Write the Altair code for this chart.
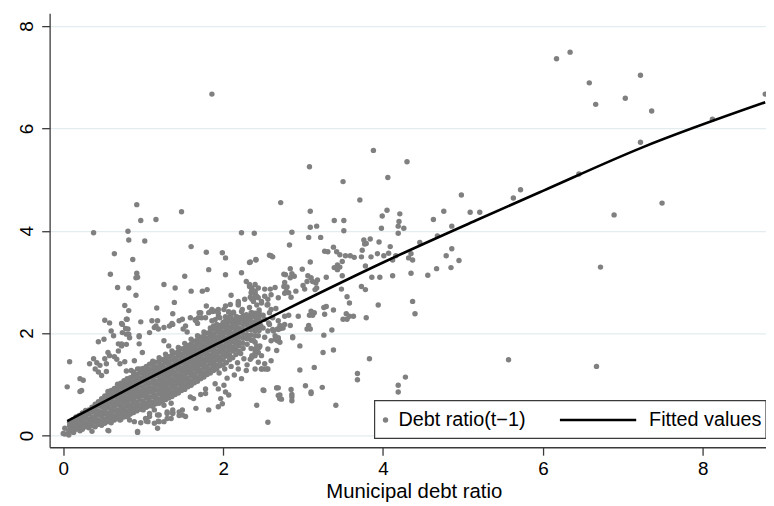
import altair as alt
import pandas as pd

# ---------------- data ----------------
X_TICKS = [0, 2, 4, 6, 8]
Y_TICKS = [0, 2, 4, 6, 8]
X_TITLE = "Municipal debt ratio"
LEGEND_LABELS = ["Debt ratio(t\u22121)", "Fitted values"]

# fitted curve, sampled along the drawn line
FIT_X = [0.05, 1.0, 2.0, 2.81, 4.0, 5.16, 6.0, 7.23, 8.78]
FIT_Y = [0.28, 1.06, 1.85, 2.48, 3.38, 4.20, 4.78, 5.62, 6.51]

# isolated points (x, y)
OUTLIERS = [
    (6.17, 7.36), (6.34, 7.49), (6.58, 6.89), (6.66, 6.47), (7.03, 6.59), (7.22, 7.04),
    (7.36, 6.34), (8.78, 6.67), (8.12, 6.18), (7.22, 5.73), (6.45, 5.11), (5.72, 4.80),
    (5.63, 4.64), (5.21, 4.36), (6.89, 4.31), (7.49, 4.54), (6.72, 3.29), (5.57, 1.48),
    (6.67, 1.35), (1.86, 6.67),
]

MID_POINTS = [
    (3.88, 5.57), (3.08, 5.25), (4.30, 5.35), (3.50, 4.96), (4.06, 5.04), (2.72, 4.55), (3.71, 4.60),
    (4.98, 4.70), (3.09, 4.38), (4.05, 4.40), (3.99, 4.29), (4.21, 4.33), (4.76, 4.38), (5.09, 4.36),
    (3.39, 4.20), (3.51, 4.20), (4.63, 4.22), (4.20, 4.18), (3.09, 4.07), (3.17, 4.09), (4.19, 4.09),
    (4.26, 4.05), (3.98, 4.05), (4.86, 4.09), (2.39, 3.95), (2.86, 3.97), (3.51, 4.00), (4.19, 3.95),
    (3.07, 3.87), (3.22, 3.87), (2.83, 3.72), (3.76, 3.82), (3.79, 3.75), (3.84, 3.84), (3.95, 3.78),
    (4.46, 3.77), (4.68, 3.90), (3.38, 3.68), (3.27, 3.60), (3.74, 3.62), (3.77, 3.74), (4.09, 3.69),
    (4.86, 3.65), (4.79, 3.51), (4.95, 3.42), (2.60, 3.51), (2.41, 3.43), (2.33, 3.38), (3.09, 3.39),
    (3.42, 3.59), (3.46, 3.53), (3.53, 3.51), (3.59, 3.51), (3.64, 3.48), (3.31, 3.59), (3.73, 3.49),
    (3.85, 3.49), (3.93, 3.55), (4.01, 3.51), (4.07, 3.56), (4.12, 3.43), (4.16, 3.51), (4.32, 3.47),
    (4.35, 3.55), (4.37, 3.43), (3.43, 3.33), (3.46, 3.29), (3.49, 3.40), (2.99, 3.25), (2.84, 3.26),
    (2.86, 3.16), (2.89, 3.11), (2.84, 3.08), (2.78, 3.14), (2.76, 3.15), (3.06, 3.12), (3.10, 3.08),
    (3.18, 3.04), (3.16, 2.98), (3.29, 3.09), (3.39, 3.28), (3.43, 3.24), (3.49, 3.12), (3.78, 3.31),
    (3.86, 3.09), (3.96, 3.09), (4.12, 3.12), (4.35, 3.17), (4.56, 3.13), (4.67, 3.26), (4.85, 3.28),
    (2.77, 2.99), (2.80, 2.90), (2.82, 2.79), (2.85, 2.70), (2.91, 2.82), (3.00, 2.93), (3.02, 2.86),
    (3.05, 3.01), (3.12, 3.01), (3.15, 2.85), (3.17, 2.88), (3.48, 2.86), (3.73, 2.91), (3.78, 2.85),
    (3.55, 2.71), (3.58, 2.59), (3.94, 2.55), (4.37, 2.62), (4.40, 2.38), (3.10, 2.43), (3.14, 2.40),
    (3.08, 2.35), (3.12, 2.35), (3.26, 2.50), (3.29, 2.52), (3.27, 2.37), (3.38, 2.45), (3.54, 2.38),
    (3.58, 2.33), (3.63, 2.33), (3.50, 2.27), (3.55, 2.27), (3.79, 2.30), (2.94, 2.33), (2.82, 2.35),
    (2.84, 2.15), (2.71, 2.15), (2.68, 2.08), (2.72, 2.09), (2.63, 2.04), (3.07, 2.15), (3.05, 2.08),
    (3.26, 1.96), (3.36, 2.06), (2.87, 1.91), (2.96, 1.75), (2.68, 1.85), (3.25, 1.62), (3.38, 1.67),
    (3.83, 1.50), (3.14, 1.33), (2.96, 1.28), (2.48, 1.30), (2.55, 1.30), (3.68, 1.21), (3.68, 1.09),
    (4.28, 1.14), (4.19, 0.98), (4.19, 0.85), (2.50, 0.89), (2.67, 0.93), (2.85, 0.90), (3.03, 0.97),
    (3.24, 0.94), (2.71, 0.79), (2.86, 0.80), (3.10, 0.82), (2.69, 1.88), (2.87, 1.93), (3.09, 2.08),
    (2.69, 0.93), (2.71, 0.72), (2.73, 0.71), (2.86, 0.68), (2.86, 0.75), (3.41, 0.59), (3.10, 0.85),
]

UPPER_LEFT = [
    (0.92, 4.51), (0.97, 4.20), (1.16, 4.22), (1.48, 4.37), (0.38, 3.96), (0.81, 3.99), (0.82, 3.82),
    (1.02, 3.80), (2.23, 3.96), (0.64, 3.55), (1.60, 3.69), (1.79, 3.58), (1.99, 3.57), (2.03, 3.47),
    (2.34, 3.39), (2.41, 3.44), (2.58, 3.52), (2.62, 3.49), (0.87, 3.44), (0.59, 3.15), (0.92, 3.17),
    (0.93, 3.09), (0.91, 3.08), (1.52, 3.11), (1.82, 3.24), (2.03, 3.14), (2.23, 3.18), (0.68, 2.89),
    (0.82, 2.88), (0.91, 2.74), (1.26, 2.95), (1.40, 2.88), (1.60, 2.82), (1.74, 2.82), (1.80, 2.85),
    (2.10, 2.74), (2.29, 3.01), (2.33, 2.91), (2.40, 2.95), (2.44, 2.88), (2.36, 2.82), (2.40, 2.74),
    (2.52, 2.86), (2.59, 2.86), (2.65, 2.89), (2.76, 2.91), (2.79, 2.82),
    (0.77, 2.54), (0.82, 2.44), (0.52, 2.25), (0.79, 2.27), (0.74, 2.17), (0.78, 2.09), (0.60, 2.04),
    (0.63, 1.95), (0.97, 2.22), (0.82, 1.98), (0.95, 1.93), (1.11, 2.24), (1.16, 2.14), (1.19, 2.08),
    (1.17, 2.49), (1.39, 2.60), (1.37, 2.38), (1.36, 2.19), (1.49, 2.27), (1.69, 2.30), (1.72, 2.40),
    (1.79, 2.53), (1.68, 2.19), (1.50, 2.08), (1.55, 2.02), (1.84, 2.42), (1.90, 2.43), (1.94, 2.32),
    (2.01, 2.46), (2.03, 2.32), (2.07, 2.41), (2.13, 2.41), (2.17, 2.32), (2.19, 2.58), (2.24, 2.46),
    (2.27, 2.32), (1.86, 2.24), (1.88, 2.14),
    (0.08, 1.44), (0.05, 0.95), (0.21, 1.11), (0.25, 1.08), (0.23, 0.88), (0.21, 0.86), (0.44, 1.83),
    (0.51, 1.88), (0.58, 2.20), (0.73, 2.19), (0.80, 2.27), (0.81, 2.08), (0.79, 1.98), (0.74, 2.01),
    (0.33, 1.40), (0.38, 1.50), (0.40, 1.30), (0.46, 1.37), (0.54, 1.40), (0.58, 1.56), (0.67, 1.49),
    (0.69, 1.65), (0.73, 1.75), (0.79, 1.78), (0.83, 1.91), (0.95, 1.79), (0.95, 1.95), (1.08, 2.01),
    (1.14, 2.11), (1.18, 2.24), (1.26, 2.11), (1.33, 2.14), (1.37, 2.17), (1.45, 2.24), (1.53, 2.14),
    (1.59, 2.30), (1.66, 2.24), (1.70, 2.40), (1.78, 2.30), (1.82, 2.40), (1.86, 2.46), (1.94, 2.46),
    (2.03, 2.53), (2.09, 2.56), (2.19, 2.62), (2.27, 2.66), (2.36, 2.66), (2.44, 2.69), (2.48, 2.59),
    (2.56, 2.66), (2.60, 2.75), (2.69, 2.69), (2.77, 2.78),
    (0.42, 1.42), (0.44, 1.24), (0.48, 1.17), (0.54, 1.25), (0.52, 1.50), (0.56, 1.62), (0.64, 1.54),
    (0.71, 1.40), (0.77, 1.44), (0.79, 1.26), (0.69, 1.79), (0.73, 1.79), (0.89, 1.46), (0.93, 1.30),
    (0.85, 1.27), (0.99, 1.62), (1.26, 1.85), (1.32, 1.75),
]

RIGHT_OF_CORE = [
    (2.36, 2.88), (2.40, 2.82), (2.35, 2.79), (2.42, 2.72), (2.39, 2.68), (1.73, 2.30), (1.65, 2.26),
    (1.87, 2.42), (1.94, 2.39), (2.07, 2.42), (2.13, 2.39), (2.19, 2.55), (2.23, 2.42), (2.29, 2.36),
    (1.90, 2.26), (1.96, 2.30), (2.03, 2.24), (2.09, 2.33), (2.15, 2.24), (2.21, 2.30), (2.27, 2.24),
    (2.34, 2.30), (2.40, 2.33), (2.46, 2.24), (2.52, 2.27), (2.58, 2.17), (2.38, 2.14), (2.44, 2.07),
    (2.50, 2.10), (2.56, 2.04), (2.62, 2.07), (2.69, 2.07), (2.75, 2.10), (2.77, 2.17), (2.65, 1.95),
    (2.60, 1.85), (2.71, 1.82), (2.44, 1.95), (2.52, 1.92), (2.40, 1.82), (2.46, 1.75), (2.56, 1.69),
    (2.67, 1.66), (2.40, 1.62), (2.48, 1.56), (2.34, 1.49), (2.44, 1.43), (2.52, 1.40), (2.60, 1.46),
    (2.40, 1.30), (2.48, 1.30), (2.33, 1.95), (2.38, 1.85), (2.42, 1.75), (2.40, 1.69), (2.44, 1.62),
    (2.36, 1.56), (2.45, 1.72), (2.33, 2.95), (2.36, 2.85), (2.40, 2.78), (2.34, 2.70), (2.38, 2.62),
    (2.42, 2.55), (2.33, 2.50), (2.45, 2.45), (2.36, 2.40), (2.50, 2.35), (2.31, 2.30), (2.44, 2.28),
    (2.55, 2.55), (2.52, 2.72), (2.48, 2.62), (2.58, 2.40), (2.62, 2.30), (2.66, 2.48), (2.57, 2.20),
    (2.47, 2.15), (1.95, 1.22), (2.02, 1.30), (2.10, 1.35), (2.18, 1.42), (2.26, 1.50), (2.14, 1.18),
    (2.30, 1.38), (2.05, 1.12), (2.22, 1.60), (2.35, 1.70),
]

LOWER_FRINGE = [
    (0.02, 0.03), (0.07, 0.04), (0.13, 0.06), (0.36, 0.08), (0.57, 0.09), (0.93, 0.06), (0.00, 0.04),
    (0.07, 0.01), (0.02, 0.14), (0.09, 0.15), (0.15, 0.20), (0.21, 0.24), (0.27, 0.20), (0.21, 0.09),
    (0.07, 0.09), (0.56, 0.10), (0.93, 0.08),
    (0.79, 0.37), (0.83, 0.30), (0.71, 0.32), (1.04, 0.28), (1.08, 0.37), (1.19, 0.28), (1.20, 0.40),
    (1.30, 0.43), (1.37, 0.45), (1.45, 0.46), (1.49, 0.40), (1.53, 0.37), (1.66, 0.53), (1.59, 0.75),
    (1.63, 0.72), (1.72, 0.80), (1.78, 0.91), (1.82, 0.50), (1.94, 0.56), (1.99, 0.62), (1.97, 0.72),
    (1.94, 0.91), (2.01, 0.98), (1.90, 1.01), (2.19, 1.30), (2.29, 1.27), (2.23, 1.11), (2.42, 0.59),
    (2.56, 0.26), (2.52, 1.30), (2.56, 1.30), (2.51, 0.88), (2.67, 0.93), (2.69, 0.78), (2.71, 0.72),
    (2.40, 1.56), (2.36, 1.53), (2.65, 1.88), (2.69, 1.91), (2.69, 2.24), (2.77, 2.33), (2.56, 2.56),
    (2.60, 2.46), (2.03, 0.85), (2.07, 0.79), (1.78, 0.82), (1.06, 0.27), (1.20, 0.27), (1.30, 0.33),
    (1.37, 0.43), (1.45, 0.39), (1.49, 0.50),
    (0.89, 0.27), (0.97, 0.25), (1.03, 0.33), (1.14, 0.24), (1.18, 0.14), (1.26, 0.27), (1.35, 0.33),
    (1.26, 0.59), (1.30, 0.46), (1.37, 0.50), (1.35, 0.63), (0.99, 0.53), (1.08, 0.43), (1.14, 0.50),
    (1.18, 0.40), (0.75, 0.43), (0.81, 0.37), (0.64, 0.33), (0.71, 0.30),
]

# dense core, column by column: (x, [y values])
CORE = [
    (0.08, [0.10, 0.19, 0.26]),
    (0.12, [0.08, 0.17, 0.25, 0.31]),
    (0.16, [0.12, 0.20, 0.29, 0.36]),
    (0.20, [0.14, 0.22, 0.31, 0.39]),
    (0.24, [0.12, 0.21, 0.30, 0.38, 0.44]),
    (0.28, [0.17, 0.25, 0.35, 0.44, 0.49]),
    (0.32, [0.15, 0.24, 0.32, 0.42, 0.50]),
    (0.36, [0.19, 0.28, 0.36, 0.46, 0.55]),
    (0.40, [0.17, 0.27, 0.35, 0.45, 0.54, 0.61]),
    (0.44, [0.22, 0.30, 0.40, 0.48, 0.58, 0.66]),
    (0.48, [0.20, 0.29, 0.38, 0.46, 0.56, 0.64, 0.72]),
    (0.52, [0.24, 0.32, 0.42, 0.51, 0.59, 0.69, 0.77]),
    (0.56, [0.27, 0.36, 0.44, 0.54, 0.62, 0.72, 0.80, 0.86]),
    (0.60, [0.25, 0.34, 0.43, 0.51, 0.61, 0.70, 0.78, 0.88]),
    (0.64, [0.30, 0.38, 0.48, 0.57, 0.65, 0.75, 0.84, 0.92]),
    (0.68, [0.33, 0.42, 0.50, 0.60, 0.69, 0.77, 0.87, 0.95, 1.00]),
    (0.72, [0.31, 0.40, 0.49, 0.57, 0.67, 0.76, 0.84, 0.94, 1.02]),
    (0.76, [0.36, 0.45, 0.53, 0.63, 0.72, 0.80, 0.90, 0.99, 1.07]),
    (0.80, [0.39, 0.47, 0.57, 0.66, 0.74, 0.84, 0.93, 1.01, 1.11]),
    (0.84, [0.42, 0.51, 0.59, 0.69, 0.78, 0.86, 0.96, 1.05, 1.13]),
    (0.88, [0.45, 0.53, 0.63, 0.72, 0.80, 0.90, 0.99, 1.07, 1.17, 1.24]),
    (0.92, [0.48, 0.57, 0.65, 0.75, 0.84, 0.92, 1.02, 1.11, 1.19]),
    (0.96, [0.51, 0.59, 0.69, 0.78, 0.86, 0.96, 1.05, 1.13, 1.23, 1.30]),
    (1.00, [0.50, 0.59, 0.67, 0.77, 0.86, 0.94, 1.04, 1.13, 1.21, 1.31]),
    (1.04, [0.55, 0.63, 0.73, 0.82, 0.90, 1.00, 1.09, 1.17, 1.27, 1.35]),
    (1.08, [0.58, 0.67, 0.75, 0.85, 0.94, 1.02, 1.12, 1.21, 1.29, 1.39]),
    (1.12, [0.57, 0.65, 0.75, 0.84, 0.92, 1.02, 1.11, 1.19, 1.29, 1.38, 1.45]),
    (1.16, [0.62, 0.71, 0.79, 0.89, 0.98, 1.06, 1.16, 1.25, 1.33, 1.43]),
    (1.20, [0.63, 0.71, 0.81, 0.90, 0.98, 1.08, 1.17, 1.25, 1.35, 1.44, 1.52]),
    (1.24, [0.67, 0.76, 0.84, 0.94, 1.03, 1.11, 1.21, 1.30, 1.38, 1.48]),
    (1.28, [0.70, 0.78, 0.88, 0.97, 1.05, 1.15, 1.24, 1.32, 1.42, 1.51, 1.59]),
    (1.32, [0.73, 0.82, 0.90, 1.00, 1.09, 1.17, 1.27, 1.36, 1.44, 1.54]),
    (1.36, [0.76, 0.84, 0.94, 1.03, 1.11, 1.21, 1.30, 1.38, 1.48, 1.57, 1.65]),
    (1.40, [0.80, 0.89, 0.97, 1.07, 1.16, 1.24, 1.34, 1.43, 1.51, 1.61]),
    (1.44, [0.83, 0.91, 1.01, 1.10, 1.18, 1.28, 1.37, 1.45, 1.55, 1.64, 1.72]),
    (1.48, [0.88, 0.97, 1.05, 1.15, 1.24, 1.32, 1.42, 1.51, 1.59, 1.69]),
    (1.52, [0.90, 0.98, 1.08, 1.17, 1.25, 1.35, 1.44, 1.52, 1.62, 1.71, 1.80]),
    (1.56, [0.95, 1.04, 1.12, 1.22, 1.31, 1.39, 1.49, 1.58, 1.66, 1.76]),
    (1.60, [0.98, 1.06, 1.16, 1.25, 1.33, 1.43, 1.52, 1.60, 1.70, 1.79, 1.88]),
    (1.64, [1.03, 1.12, 1.20, 1.30, 1.39, 1.47, 1.57, 1.66, 1.74, 1.84]),
    (1.68, [1.06, 1.14, 1.24, 1.33, 1.41, 1.51, 1.60, 1.68, 1.78, 1.87, 1.95]),
    (1.72, [1.11, 1.20, 1.28, 1.38, 1.47, 1.55, 1.65, 1.74, 1.82, 1.92]),
    (1.76, [1.14, 1.22, 1.32, 1.41, 1.49, 1.59, 1.68, 1.76, 1.86, 1.95, 2.02]),
    (1.80, [1.19, 1.28, 1.36, 1.46, 1.55, 1.63, 1.73, 1.82, 1.90, 2.00]),
    (1.84, [1.22, 1.30, 1.40, 1.49, 1.57, 1.67, 1.76, 1.84, 1.94, 2.03, 2.10]),
    (1.88, [1.27, 1.36, 1.44, 1.54, 1.63, 1.71, 1.81, 1.90, 1.98, 2.08]),
    (1.92, [1.30, 1.38, 1.48, 1.57, 1.65, 1.75, 1.84, 1.92, 2.02, 2.11, 2.17]),
    (1.96, [1.36, 1.45, 1.53, 1.63, 1.72, 1.80, 1.90, 1.99, 2.07, 2.15]),
    (2.00, [1.38, 1.48, 1.58, 1.67, 1.75, 1.85, 1.94, 2.02, 2.12, 2.21]),
    (2.04, [1.42, 1.55, 1.63, 1.73, 1.82, 1.90, 2.00, 2.09, 2.17]),
    (2.08, [1.48, 1.58, 1.68, 1.77, 1.85, 1.95, 2.04, 2.12, 2.22, 2.28]),
    (2.12, [1.52, 1.65, 1.73, 1.83, 1.92, 2.00, 2.10, 2.19, 2.26]),
    (2.16, [1.58, 1.68, 1.78, 1.87, 1.95, 2.05, 2.14, 2.22, 2.31]),
    (2.20, [1.64, 1.75, 1.83, 1.93, 2.02, 2.10, 2.20, 2.28]),
    (2.25, [1.70, 1.80, 1.90, 1.99, 2.07, 2.17, 2.26, 2.34]),
    (2.30, [1.78, 1.89, 1.97, 2.07, 2.16, 2.24, 2.34]),
    (2.35, [1.86, 1.96, 2.06, 2.15, 2.23, 2.33, 2.40]),
    (2.40, [1.95, 2.04, 2.12, 2.22, 2.31, 2.39]),
    (2.45, [2.05, 2.13, 2.23, 2.32, 2.40]),
]

# ---------------- build tables ----------------
pairs = OUTLIERS + MID_POINTS + UPPER_LEFT + RIGHT_OF_CORE + LOWER_FRINGE
for cx, ys in CORE:
    pairs += [(cx, cy) for cy in ys]
scatter_df = pd.DataFrame(pairs, columns=["x", "y"])
fit_df = pd.DataFrame({"x": FIT_X, "y": FIT_Y})

FONT = "Liberation Sans"
GREY = "#808080"
PT_SIZE = 30

x_scale = alt.Scale(domain=[-0.17, 8.79], nice=False, zero=False)
y_scale = alt.Scale(domain=[-0.23, 8.25], nice=False, zero=False)

x_axis = alt.Axis(
    values=X_TICKS, format="d", grid=False, title=X_TITLE, domainColor="#3a3a3a", domainWidth=1.3,
    tickColor="#3a3a3a", tickWidth=1.3, tickSize=8, labelFontSize=19, labelFont=FONT,
    labelColor="black", labelPadding=5, labelFlush=False, titleFont=FONT, titleFontSize=20.5,
    titleFontWeight="normal", titleColor="black", titlePadding=3, titleX=367.5,
)
y_axis = alt.Axis(
    values=Y_TICKS, format="d", grid=True, gridColor="#e3ecef", gridWidth=1.3, title=None,
    domainColor="#3a3a3a", domainWidth=1.3, tickColor="#3a3a3a", tickWidth=1.3, tickSize=8,
    labelFontSize=19, labelFont=FONT, labelColor="black", labelAngle=270, labelAlign="center",
    labelBaseline="bottom", labelPadding=5, labelFlush=False,
)

points = alt.Chart(scatter_df).mark_circle(size=PT_SIZE, color=GREY, opacity=1).encode(
    x=alt.X("x:Q", scale=x_scale, axis=x_axis),
    y=alt.Y("y:Q", scale=y_scale, axis=y_axis),
)
fit = alt.Chart(fit_df).mark_line(color="black", strokeWidth=2.6, interpolate="monotone").encode(
    x="x:Q", y="y:Q"
)

# ---------------- legend box (inside plot, bottom right) ----------------
one = pd.DataFrame({"k": [0]})
leg_box = alt.Chart(one).mark_rect(fill="white", stroke="#3a3a3a", strokeWidth=1.2).encode(
    x=alt.value(328), x2=alt.value(723), y=alt.value(391), y2=alt.value(429)
)
leg_pt = alt.Chart(one).mark_circle(size=PT_SIZE, color=GREY, opacity=1).encode(
    x=alt.value(339), y=alt.value(410.5)
)
leg_line = alt.Chart(one).mark_rule(color="black", strokeWidth=2.6).encode(
    x=alt.value(515), x2=alt.value(592), y=alt.value(410.5)
)
leg_t1 = alt.Chart(pd.DataFrame({"t": [LEGEND_LABELS[0]]})).mark_text(
    align="left", baseline="middle", font=FONT, fontSize=20, color="black"
).encode(x=alt.value(352), y=alt.value(411), text="t:N")
leg_t2 = alt.Chart(pd.DataFrame({"t": [LEGEND_LABELS[1]]})).mark_text(
    align="left", baseline="middle", font=FONT, fontSize=20, color="black"
).encode(x=alt.value(605), y=alt.value(411), text="t:N")

chart = alt.layer(points, fit, leg_box, leg_pt, leg_line, leg_t1, leg_t2).properties(
    width=723, height=438,
    padding={"left": 42, "top": 3, "right": 0, "bottom": 56},
    autosize=alt.AutoSizeParams(type="none"),
    background="white",
).configure_view(strokeWidth=0)

chart.save("out.html", embed_options={"renderer": "svg", "actions": False})
